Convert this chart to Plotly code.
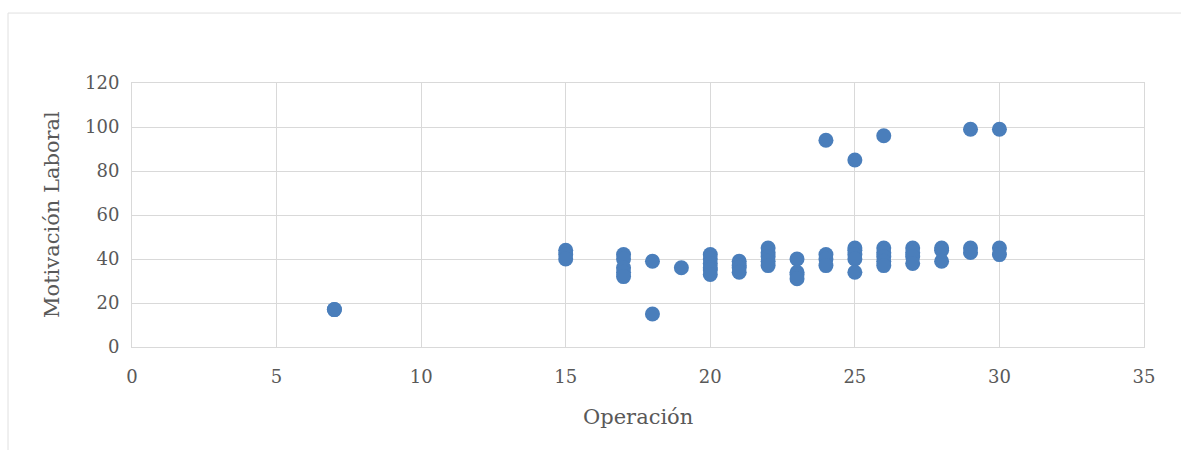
import plotly.graph_objects as go

# Puntajes por trabajador: Operación (x) frente a Motivación Laboral (y)
operacion = [
    7, 7,
    15, 15, 15,
    17, 17, 17, 17, 17,
    18, 18,
    19,
    20, 20, 20, 20, 20, 20,
    21, 21, 21, 21,
    22, 22, 22, 22, 22,
    23, 23, 23, 23,
    24, 24, 24, 24,
    25, 25, 25, 25, 25, 25,
    26, 26, 26, 26, 26, 26,
    27, 27, 27, 27,
    28, 28, 28,
    29, 29, 29,
    30, 30, 30,
]
motivacion = [
    17, 17,
    44, 42, 40,
    42, 40, 36, 34, 32,
    39, 15,
    36,
    42, 40, 38, 36, 35, 33,
    39, 37, 36, 34,
    45, 43, 41, 39, 37,
    40, 34, 33, 31,
    42, 40, 37, 94,
    45, 44, 42, 40, 34, 85,
    45, 43, 41, 39, 37, 96,
    45, 43, 41, 38,
    45, 44, 39,
    45, 43, 99,
    45, 42, 99,
]

x_ticks = [0, 5, 10, 15, 20, 25, 30, 35]
y_ticks = [0, 20, 40, 60, 80, 100, 120]

FONT = "DejaVu Serif"
TEXT_COLOR = "#595959"
GRID = "#d9d9d9"

fig = go.Figure(
    go.Scatter(
        x=operacion,
        y=motivacion,
        mode="markers",
        marker=dict(size=15, color="#4A7EBB", line=dict(width=0)),
        showlegend=False,
    )
)

axis_common = dict(
    showgrid=True,
    gridcolor=GRID,
    gridwidth=1,
    showline=True,
    linecolor=GRID,
    linewidth=1,
    mirror=True,
    zeroline=False,
    ticks="",
    tickfont=dict(family=FONT, size=18, color=TEXT_COLOR),
)

fig.update_xaxes(
    range=[0, 35],
    tickvals=x_ticks,
    ticktext=[str(v) for v in x_ticks],
    ticklabelstandoff=13,
    **axis_common,
)
fig.update_yaxes(
    range=[0, 120],
    tickvals=y_ticks,
    ticktext=[str(v) for v in y_ticks],
    ticklabelstandoff=8,
    **axis_common,
)

# Marco exterior del gráfico
fig.add_shape(
    type="rect",
    xref="paper", yref="paper",
    x0=-0.1225, x1=1.2, y0=-0.6, y1=1.265,
    line=dict(color="#e0e0e0", width=1),
    fillcolor="rgba(0,0,0,0)",
    layer="below",
)

fig.add_annotation(
    text="Operación",
    xref="paper", yref="paper", x=0.5, y=0,
    yshift=-70, showarrow=False,
    font=dict(family=FONT, size=21, color=TEXT_COLOR),
    yanchor="middle", xanchor="center",
)
fig.add_annotation(
    text="Motivación Laboral",
    xref="paper", yref="paper", x=0, y=0.5,
    xshift=-80, showarrow=False, textangle=-90,
    font=dict(family=FONT, size=21, color=TEXT_COLOR),
    yanchor="middle", xanchor="center",
)

fig.update_layout(
    width=1181,
    height=450,
    margin=dict(l=132, r=37, t=83, b=103),
    paper_bgcolor="white",
    plot_bgcolor="white",
)

fig.write_html("out.html")
